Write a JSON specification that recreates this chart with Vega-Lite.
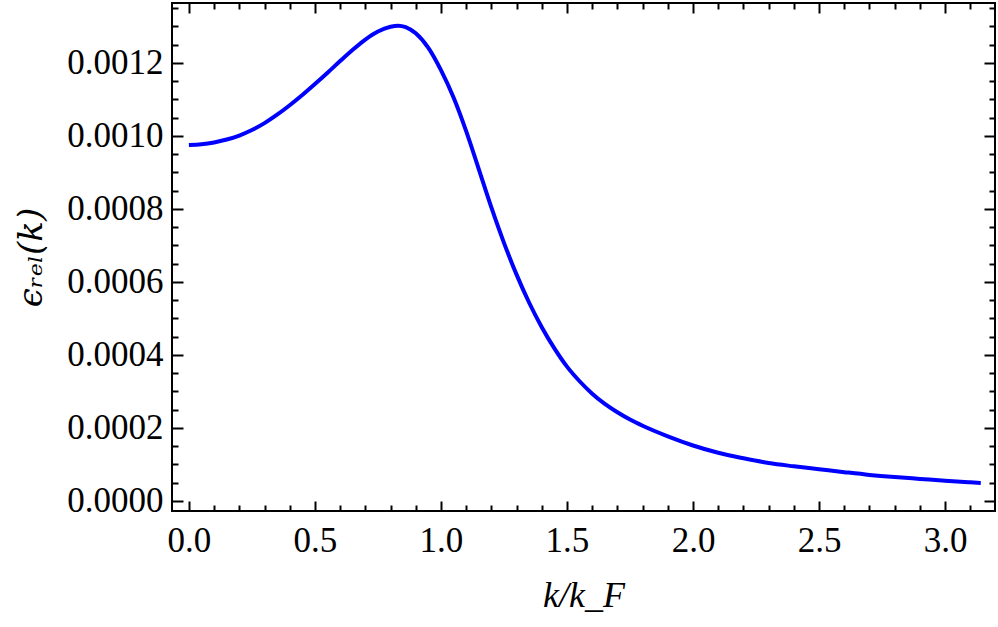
{
  "$schema": "https://vega.github.io/schema/vega-lite/v6.json",
  "autosize": "none",
  "width": 823,
  "height": 508,
  "padding": {"left": 172, "top": 3, "right": 3, "bottom": 116},
  "background": "white",
  "config": {
    "view": {"stroke": "black", "strokeWidth": 2},
    "axis": {"grid": false, "domain": false, "tickColor": "black", "tickWidth": 2, "labelFont": "Liberation Serif", "labelFontSize": 35, "labelColor": "black", "titleColor": "black"}
  },
  "data": {"values": [
    {"k": 0.0, "eps": 0.000975},
    {"k": 0.05, "eps": 0.000977},
    {"k": 0.1, "eps": 0.000982},
    {"k": 0.15, "eps": 0.000990},
    {"k": 0.2, "eps": 0.001001},
    {"k": 0.25, "eps": 0.001016},
    {"k": 0.3, "eps": 0.001035},
    {"k": 0.35, "eps": 0.001058},
    {"k": 0.4, "eps": 0.001084},
    {"k": 0.45, "eps": 0.001112},
    {"k": 0.5, "eps": 0.001142},
    {"k": 0.55, "eps": 0.001173},
    {"k": 0.6, "eps": 0.001205},
    {"k": 0.65, "eps": 0.001236},
    {"k": 0.7, "eps": 0.001264},
    {"k": 0.75, "eps": 0.001286},
    {"k": 0.8, "eps": 0.001299},
    {"k": 0.83, "eps": 0.001302},
    {"k": 0.86, "eps": 0.001298},
    {"k": 0.9, "eps": 0.001281},
    {"k": 0.95, "eps": 0.001241},
    {"k": 1.0, "eps": 0.001180},
    {"k": 1.05, "eps": 0.001105},
    {"k": 1.1, "eps": 0.001013},
    {"k": 1.15, "eps": 0.000909},
    {"k": 1.2, "eps": 0.000804},
    {"k": 1.25, "eps": 0.000707},
    {"k": 1.3, "eps": 0.000620},
    {"k": 1.35, "eps": 0.000543},
    {"k": 1.4, "eps": 0.000476},
    {"k": 1.45, "eps": 0.000418},
    {"k": 1.5, "eps": 0.000368},
    {"k": 1.55, "eps": 0.000328},
    {"k": 1.6, "eps": 0.000294},
    {"k": 1.65, "eps": 0.000266},
    {"k": 1.7, "eps": 0.000243},
    {"k": 1.75, "eps": 0.000223},
    {"k": 1.8, "eps": 0.000206},
    {"k": 1.9, "eps": 0.000177},
    {"k": 2.0, "eps": 0.000152},
    {"k": 2.1, "eps": 0.000132},
    {"k": 2.2, "eps": 0.000117},
    {"k": 2.3, "eps": 0.000104},
    {"k": 2.4, "eps": 0.000095},
    {"k": 2.5, "eps": 0.000087},
    {"k": 2.6, "eps": 0.000079},
    {"k": 2.7, "eps": 0.0000715},
    {"k": 2.8, "eps": 0.0000655},
    {"k": 2.9, "eps": 0.0000605},
    {"k": 3.0, "eps": 0.0000555},
    {"k": 3.1, "eps": 0.0000512},
    {"k": 3.1416, "eps": 0.0000495}
  ]},
  "resolve": {"axis": {"x": "independent", "y": "independent"}},
  "layer": [
    {
      "mark": {"type": "line", "color": "#0000ff", "strokeWidth": 4, "interpolate": "monotone", "clip": true},
      "encoding": {
        "x": {"field": "k", "type": "quantitative", "scale": {"domain": [-0.067, 3.198], "nice": false, "zero": false},
          "axis": {"orient": "bottom", "ticks": false, "labelPadding": 12, "values": [0, 0.5, 1, 1.5, 2, 2.5, 3], "format": ".1f", "title": "k/k_F", "titleFont": "Liberation Serif", "titleFontStyle": "italic", "titleFontWeight": "normal", "titleFontSize": 36, "titlePadding": 20}},
        "y": {"field": "eps", "type": "quantitative", "scale": {"domain": [-0.0000274, 0.001364], "nice": false, "zero": false},
          "axis": {"orient": "left", "ticks": false, "labelPadding": 9, "values": [0, 0.0002, 0.0004, 0.0006, 0.0008, 0.001, 0.0012], "format": ".4f", "title": "ϵᵣₑₗ(k)", "titleFont": "DejaVu Serif", "titleFontStyle": "italic", "titleFontWeight": "normal", "titleFontSize": 34, "titlePadding": 18}}
      }
    },
    {
      "mark": {"type": "line", "strokeOpacity": 0},
      "encoding": {
        "x": {"field": "k", "type": "quantitative", "axis": {"orient": "bottom", "labels": false, "title": null, "tickSize": -10, "values": [0, 0.5, 1, 1.5, 2, 2.5, 3]}},
        "y": {"field": "eps", "type": "quantitative", "axis": {"orient": "left", "labels": false, "title": null, "tickSize": -11, "values": [0, 0.0002, 0.0004, 0.0006, 0.0008, 0.001, 0.0012]}}
      }
    },
    {
      "mark": {"type": "line", "strokeOpacity": 0},
      "encoding": {
        "x": {"field": "k", "type": "quantitative", "axis": {"orient": "bottom", "labels": false, "title": null, "tickSize": -6, "values": [0.1, 0.2, 0.3, 0.4, 0.6, 0.7, 0.8, 0.9, 1.1, 1.2, 1.3, 1.4, 1.6, 1.7, 1.8, 1.9, 2.1, 2.2, 2.3, 2.4, 2.6, 2.7, 2.8, 2.9, 3.1]}},
        "y": {"field": "eps", "type": "quantitative", "axis": {"orient": "left", "labels": false, "title": null, "tickSize": -6, "values": [0.00005, 0.0001, 0.00015, 0.00025, 0.0003, 0.00035, 0.00045, 0.0005, 0.00055, 0.00065, 0.0007, 0.00075, 0.00085, 0.0009, 0.00095, 0.00105, 0.0011, 0.00115, 0.00125, 0.0013, 0.00135]}}
      }
    },
    {
      "mark": {"type": "line", "strokeOpacity": 0},
      "encoding": {
        "x": {"field": "k", "type": "quantitative", "axis": {"orient": "top", "labels": false, "title": null, "tickSize": -10, "values": [0, 0.5, 1, 1.5, 2, 2.5, 3]}},
        "y": {"field": "eps", "type": "quantitative", "axis": {"orient": "right", "labels": false, "title": null, "tickSize": -11, "values": [0, 0.0002, 0.0004, 0.0006, 0.0008, 0.001, 0.0012]}}
      }
    },
    {
      "mark": {"type": "line", "strokeOpacity": 0},
      "encoding": {
        "x": {"field": "k", "type": "quantitative", "axis": {"orient": "top", "labels": false, "title": null, "tickSize": -6, "values": [0.1, 0.2, 0.3, 0.4, 0.6, 0.7, 0.8, 0.9, 1.1, 1.2, 1.3, 1.4, 1.6, 1.7, 1.8, 1.9, 2.1, 2.2, 2.3, 2.4, 2.6, 2.7, 2.8, 2.9, 3.1]}},
        "y": {"field": "eps", "type": "quantitative", "axis": {"orient": "right", "labels": false, "title": null, "tickSize": -6, "values": [0.00005, 0.0001, 0.00015, 0.00025, 0.0003, 0.00035, 0.00045, 0.0005, 0.00055, 0.00065, 0.0007, 0.00075, 0.00085, 0.0009, 0.00095, 0.00105, 0.0011, 0.00115, 0.00125, 0.0013, 0.00135]}}
      }
    }
  ]
}
